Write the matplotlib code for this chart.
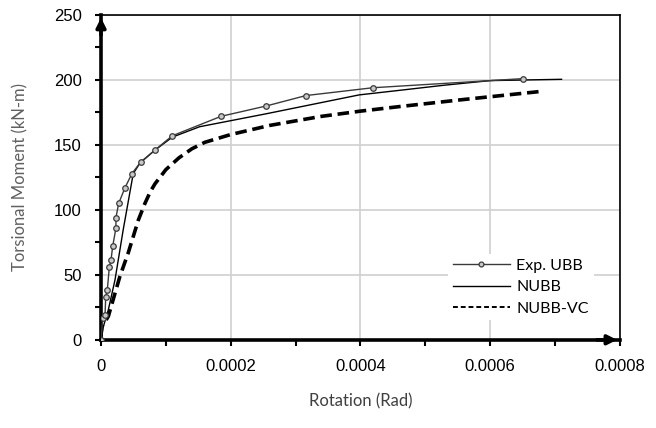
"""
Torsional moment vs. rotation for the UBB test and the NUBB / NUBB-VC models.
"""

import matplotlib
matplotlib.use("Agg")
import matplotlib.pyplot as plt
from matplotlib.ticker import MultipleLocator

# --- Data ---
exp_rot = [0.0, 0.0000026, 0.0000062, 0.0000072, 0.0000097, 0.0000128, 0.0000154,
           0.000018, 0.000023, 0.000023, 0.0000272, 0.0000369, 0.0000477,
           0.0000615, 0.0000831, 0.0001097, 0.000185, 0.000255, 0.000316,
           0.000419, 0.00065]
exp_moment = [0, 16.7, 19, 33, 38.5, 56, 61.5, 72, 86, 94, 105, 117, 128,
              137, 146, 157, 172, 180, 188, 194, 201]

nubb_rot = [0.0, 0.0000035, 0.0000112, 0.0000215, 0.0000343, 0.0000497,
            0.00006, 0.0000831, 0.00011, 0.000152, 0.000255, 0.000398,
            0.00046, 0.00053, 0.00060, 0.00071]
nubb_moment = [0, 10, 23, 46, 85, 128, 136, 146, 156, 164, 174, 188.5,
               192, 196, 199.5, 200.5]

vc_rot = [0.0, 0.000001, 0.0000112, 0.0000292, 0.000042, 0.0000574,
          0.0000677, 0.000076, 0.0000831, 0.0001, 0.00012, 0.00014, 0.00016,
          0.0002, 0.00026, 0.00034, 0.0004, 0.00046, 0.00056, 0.000675]
vc_moment = [3, 10, 18, 49, 67, 92, 105, 114, 120, 131, 140, 147, 152,
             158, 165, 172, 176, 179.5, 185, 191]

x_ticks = [0, 0.0002, 0.0004, 0.0006, 0.0008]
x_tick_labels = ["0", "0.0002", "0.0004", "0.0006", "0.0008"]
y_ticks = [0, 50, 100, 150, 200, 250]

LABEL_FONT = ["Lato", "DejaVu Sans"]
TICK_FONT = ["Liberation Sans", "DejaVu Sans"]

fig = plt.figure(figsize=(6.56, 4.28), dpi=100)
ax = fig.add_axes([0.154, 0.206, 0.791, 0.759])

ax.plot(exp_rot, exp_moment, color="#3a3a3a", lw=1.0, marker="o", ms=4,
        mfc="#c8c8c8", mec="#3a3a3a", mew=0.9, label="Exp. UBB", zorder=4)
ax.plot(nubb_rot, nubb_moment, color="black", lw=1.0, label="NUBB", zorder=3)
ax.plot(vc_rot, vc_moment, color="black", lw=2.6, dashes=(3.2, 1.6),
        label="NUBB-VC", zorder=3)

ax.set_xlim(0, 0.0008)
ax.set_ylim(0, 250)
ax.set_xticks(x_ticks)
ax.set_xticklabels(x_tick_labels)
ax.set_yticks(y_ticks)
ax.xaxis.set_minor_locator(MultipleLocator(0.0001))
ax.yaxis.set_minor_locator(MultipleLocator(25))

ax.grid(True, which="major", color="#d0d0d0", lw=1.2, zorder=0)
ax.tick_params(which="both", direction="out", color="black", width=1.5)
ax.tick_params(which="major", length=4, labelsize=12, pad=10)
ax.tick_params(which="minor", length=4)
for lbl in ax.get_xticklabels() + ax.get_yticklabels():
    lbl.set_family(TICK_FONT)

for side in ("top", "right"):
    ax.spines[side].set_linewidth(1.2)
for side in ("left", "bottom"):
    ax.spines[side].set_linewidth(2.6)

# arrowheads on the left and bottom axes
ax.annotate("", xy=(0, 1.0), xytext=(0, 0.93), xycoords="axes fraction",
            arrowprops=dict(arrowstyle="-|>", color="black", lw=2.6,
                            mutation_scale=14), annotation_clip=False)
ax.annotate("", xy=(1.0, 0), xytext=(0.95, 0), xycoords="axes fraction",
            arrowprops=dict(arrowstyle="-|>", color="black", lw=2.6,
                            mutation_scale=14), annotation_clip=False)

ax.set_xlabel("Rotation (Rad)", fontsize=12, family=LABEL_FONT,
              color="#404040", labelpad=14)
ax.set_ylabel("Torsional Moment (kN-m)", fontsize=12, family=LABEL_FONT,
              color="#606060", labelpad=18)

leg = ax.legend(loc="lower right", bbox_to_anchor=(0.965, 0.035), frameon=True,
                fancybox=False, edgecolor="none", facecolor="white",
                framealpha=1.0, handlelength=3.6, handletextpad=0.4,
                labelspacing=0.45, borderpad=0.3,
                prop={"family": LABEL_FONT, "size": 11.5})
for line in leg.get_lines():
    line.set_markersize(3.5)
leg.get_lines()[2].set_linewidth(1.4)
leg.get_lines()[2].set_dashes((2.5, 1.5))

fig.savefig("out.png", dpi=100)
